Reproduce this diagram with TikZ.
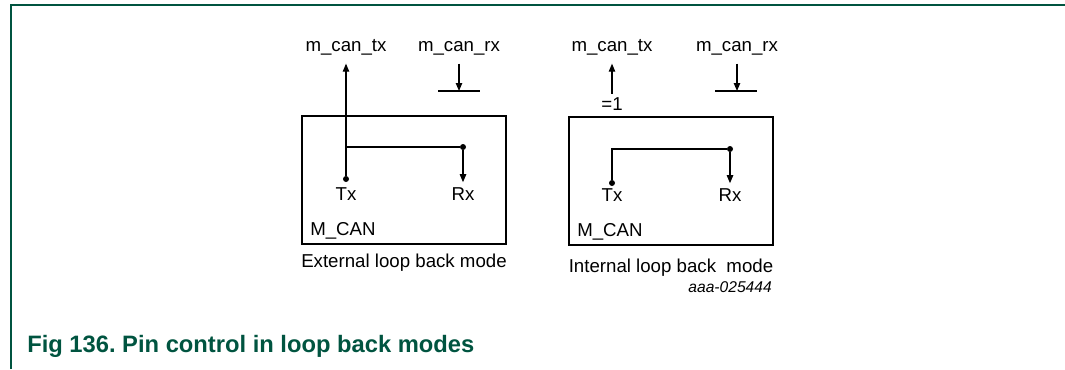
\documentclass[tikz,border=0pt]{standalone}
\usepackage{fontspec}
\setmainfont{Liberation Sans}
\usetikzlibrary{arrows.meta,positioning}
\definecolor{figgreen}{RGB}{0,84,64}
\frenchspacing
\tikzset{
  lbl/.style={inner sep=0pt,font=\fontsize{14}{16}\selectfont},
  mcan/.style={draw,line width=1.5pt,minimum width=153pt,minimum height=96pt,inner sep=0pt},
  dot/.style={circle,fill,inner sep=0pt,minimum size=4.5pt},
  wire/.style={line width=0.85pt},
  arrow/.style={wire,-{Triangle[length=6pt,width=4.8pt]}}
}

\begin{document}
\begin{tikzpicture}[x=0.75pt,y=-0.75pt]
\useasboundingbox (0,0) rectangle (1065,369);
\draw[figgreen,line width=1.1pt] (11,369) -- (11,5) -- (1065,5);
% external loop back
\node[mcan] (boxA) at (404,179.5) {};
\node[lbl,anchor=base] (mtxA) at (346,51) {m\_can\_tx};
\node[lbl,anchor=base] (mrxA) at (459,51) {m\_can\_rx};
\node[dot] (txdA) at (346,179) {};
\node[dot] (rxdA) at (463,147) {};
\coordinate (jA) at (346,147);
\node[lbl,anchor=base] (txA) at (346,200) {Tx};
\node[lbl,anchor=base] (rxA) at (463,200) {Rx};
\node[lbl,anchor=base west] (mcanA) at (310,235) {M\_CAN};
\coordinate (rxinA) at (459,91);
\coordinate (barlA) at (438,91);
\coordinate (barrA) at (480,91);
\draw[arrow,shorten >=6.5pt] (txdA) -- (mtxA.south);
\draw[wire] (jA) -- (rxdA);
\draw[arrow,shorten >=3.5pt] (rxdA) -- (rxA.north);
\draw[arrow,shorten <=6.5pt] (mrxA.south) -- (rxinA);
\draw[wire] (barlA) -- (barrA);
\node[lbl,below=7pt of boxA] (capA) {External loop back mode};
% internal loop back
\node[mcan] (boxB) at (671,180.5) {};
\node[lbl,anchor=base] (mtxB) at (612,51) {m\_can\_tx};
\node[lbl,anchor=base] (mrxB) at (737,51) {m\_can\_rx};
\node[lbl,anchor=base] (oneB) at (612,110) {=1};
\node[dot] (txdB) at (612,183) {};
\node[dot] (rxdB) at (730,149) {};
\coordinate (cB) at (612,149);
\node[lbl,anchor=base] (txB) at (612,201) {Tx};
\node[lbl,anchor=base] (rxB) at (730,201) {Rx};
\node[lbl,anchor=base west] (mcanB) at (577,236) {M\_CAN};
\coordinate (rxinB) at (737,91);
\coordinate (barlB) at (715,91);
\coordinate (barrB) at (757,91);
\draw[arrow,shorten <=2.5pt,shorten >=6.5pt] (oneB.north) -- (mtxB.south);
\draw[wire] (txdB) -- (cB) -- (rxdB);
\draw[arrow,shorten >=3.5pt] (rxdB) -- (rxB.north);
\draw[arrow,shorten <=6.5pt] (mrxB.south) -- (rxinB);
\draw[wire] (barlB) -- (barrB);
\node[lbl,below=10pt of boxB] (capB) {Internal loop back\ \ mode};
\node[inner sep=0pt,anchor=base east,font=\fontsize{11.7}{14}\itshape] (docid) at (772,292) {aaa-025444};
% caption
\node[inner sep=0pt,anchor=base west,text=figgreen,font=\fontsize{17.8}{20}\selectfont\bfseries] (figcap) at (27,352) {Fig 136. Pin control in loop back modes};
\end{tikzpicture}
\end{document}
